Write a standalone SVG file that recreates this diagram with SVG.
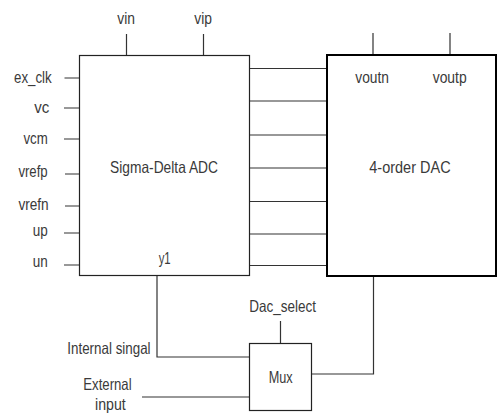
<svg xmlns="http://www.w3.org/2000/svg" width="497" height="413" viewBox="0 0 497 413">
<style>
text{font-family:"Liberation Sans",Arial,sans-serif;font-size:16.5px;fill:#3a3a3a}
.w{stroke:#333;stroke-width:1.2;fill:none}
.b{fill:#fff;stroke:#222;stroke-width:1.2}
.bk{fill:#fff;stroke:#000;stroke-width:2}
</style>
<rect width="497" height="413" fill="#fff"/>
<g id="connectors">
<path class="w" d="M126.5 34V55.5M203.5 34V55.5"/>
<path class="w" d="M64.5 78H79.5M64 108H79.5M64 139H79.5M65 174H79.5M65 206H79.5M64 233H79.5M64 265H79.5"/>
<path class="w" d="M249.5 68.5H327M249.5 101H327M249.5 135H327M249.5 168H327M249.5 201.5H327M249.5 234H327M249.5 265.5H327"/>
<path class="w" d="M373 33V55M450 33V62"/>
<path class="w" d="M157 276V357H250M142 397H250M280.5 321V343.5M311.5 374H373.5V276"/>
</g>
<g id="adc">
<rect class="b" x="79.5" y="55.5" width="170" height="220"/>
<text x="110" y="172.5" textLength="108" lengthAdjust="spacingAndGlyphs">Sigma-Delta ADC</text>
<text x="158.7" y="264" textLength="12" lengthAdjust="spacingAndGlyphs">y1</text>
<text x="117.3" y="24" textLength="17.7" lengthAdjust="spacingAndGlyphs">vin</text>
<text x="194.3" y="24" textLength="17.7" lengthAdjust="spacingAndGlyphs">vip</text>
<text x="14" y="83" textLength="37.7" lengthAdjust="spacingAndGlyphs">ex_clk</text>
<text x="34.3" y="113" textLength="15" lengthAdjust="spacingAndGlyphs">vc</text>
<text x="23.4" y="143.5" textLength="24.3" lengthAdjust="spacingAndGlyphs">vcm</text>
<text x="18.4" y="176.7" textLength="29.3" lengthAdjust="spacingAndGlyphs">vrefp</text>
<text x="18.4" y="210" textLength="30.3" lengthAdjust="spacingAndGlyphs">vrefn</text>
<text x="32.7" y="235.5" textLength="15" lengthAdjust="spacingAndGlyphs">up</text>
<text x="32.7" y="267" textLength="15" lengthAdjust="spacingAndGlyphs">un</text>
</g>
<g id="dac">
<rect class="bk" x="327" y="55" width="169" height="221"/>
<text x="369.3" y="172.7" textLength="81.3" lengthAdjust="spacingAndGlyphs">4-order DAC</text>
<text x="355.3" y="83" textLength="33.7" lengthAdjust="spacingAndGlyphs">voutn</text>
<text x="432.7" y="83" textLength="34" lengthAdjust="spacingAndGlyphs">voutp</text>
</g>
<g id="mux">
<rect class="b" x="249.5" y="343.5" width="62" height="67"/>
<text x="268.7" y="383" textLength="24" lengthAdjust="spacingAndGlyphs">Mux</text>
<text x="249.3" y="312" textLength="66.7" lengthAdjust="spacingAndGlyphs">Dac_select</text>
</g>
<g id="inputs">
<text x="67.3" y="353.5" textLength="83.3" lengthAdjust="spacingAndGlyphs">Internal singal</text>
<text x="83.3" y="390" textLength="48.3" lengthAdjust="spacingAndGlyphs">External</text>
<text x="95" y="410" textLength="30.7" lengthAdjust="spacingAndGlyphs">input</text>
</g>
</svg>
